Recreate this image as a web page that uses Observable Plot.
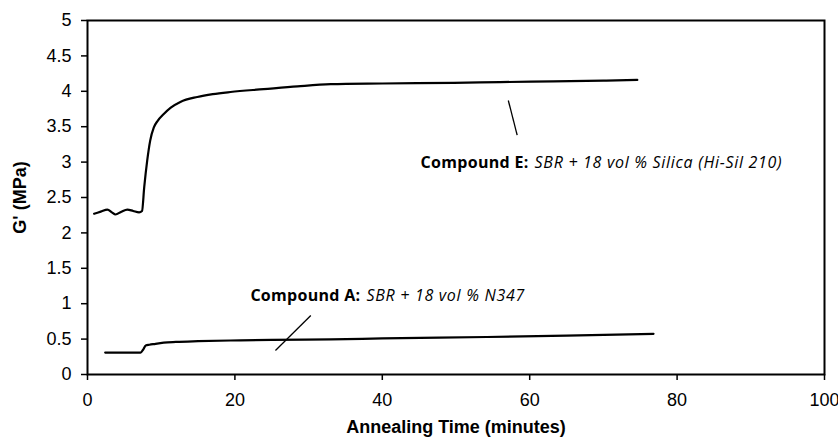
<!DOCTYPE html>
<html><head><meta charset="utf-8">
<script src="https://cdn.jsdelivr.net/npm/d3@7"></script>
<script src="https://cdn.jsdelivr.net/npm/@observablehq/plot@0.6"></script>
<style>
body{margin:0;background:#fff;}
#chart svg{font-family:"Liberation Sans",Arial,sans-serif;}
.note-bold text{letter-spacing:0.3px;}
.note-italic text{letter-spacing:0.7px;}
</style></head>
<body><div id="chart"></div>
<script>
// Compound E: SBR + 18 vol % Silica (Hi-Sil 210)
const timeE = [0.9, 1.8, 2.7, 3.3, 3.8, 4.6, 5.4, 6.2, 7.0, 7.4, 7.7, 8.1, 8.5, 9.0, 9.5, 10.35, 11.3, 12.6, 14.9, 17, 19.4, 23.9, 28.5, 33, 40, 49.7, 56, 63.2, 70, 74.6];
const gE    = [2.27, 2.30, 2.33, 2.29, 2.26, 2.30, 2.33, 2.31, 2.29, 2.31, 2.65, 3.02, 3.30, 3.49, 3.58, 3.68, 3.77, 3.85, 3.92, 3.96, 3.99, 4.03, 4.07, 4.10, 4.11, 4.12, 4.13, 4.14, 4.15, 4.16];
// Compound A: SBR + 18 vol % N347
const timeA = [2.4, 5.8, 7.2, 7.6, 7.9, 8.4, 9.0, 10.35, 12, 15, 19.4, 25, 33, 40, 54.2, 65, 76.8];
const gA    = [0.31, 0.31, 0.31, 0.36, 0.41, 0.42, 0.43, 0.45, 0.46, 0.47, 0.48, 0.49, 0.495, 0.51, 0.53, 0.55, 0.575];

const xTicks = [0, 20, 40, 60, 80, 100];
const yTicks = [0, 0.5, 1, 1.5, 2, 2.5, 3, 3.5, 4, 4.5, 5];

const xTitle = "Annealing Time (minutes)";
const yTitle = "G' (MPa)";

// annotations and leader lines
const noteBold   = ["Compound E:", "Compound A:"];
const noteItalic = ["SBR + 18 vol % Silica (Hi-Sil 210)", "SBR + 18 vol % N347"];
const noteX = [45.2, 22.1];
const noteY = [2.99, 1.115];
const leaderX1 = [57.1, 30.3], leaderY1 = [3.87, 0.833];
const leaderX2 = [58.3, 25.5], leaderY2 = [3.38, 0.34];

const seriesE = timeE.map((t, i) => ({t, g: gE[i]}));
const seriesA = timeA.map((t, i) => ({t, g: gA[i]}));
const notes = noteBold.map((b, i) => ({b, it: noteItalic[i], x: noteX[i], y: noteY[i]}));
const leaders = leaderX1.map((x1, i) => ({x1, y1: leaderY1[i], x2: leaderX2[i], y2: leaderY2[i]}));

const noteFont = "'Open Sans', sans-serif";
const noteSize = 16;

const chart = Plot.plot({
  width: 838, height: 442,
  marginLeft: 87, marginRight: 14, marginTop: 20, marginBottom: 68,
  x: {domain: [0, 100]},
  y: {domain: [0, 5]},
  marks: [
    Plot.frame({stroke: "black", strokeWidth: 2}),
    Plot.axisX({ticks: xTicks, tickSize: 6, tickPadding: 13, fontSize: 18, label: null, stroke: "black", strokeWidth: 1.5}),
    Plot.axisY({ticks: yTicks, tickSize: 6, tickPadding: 10, fontSize: 18, tickFormat: d => String(d), label: null, stroke: "black", strokeWidth: 1.5}),
    Plot.text([xTitle], {text: d => d, frameAnchor: "bottom", dy: 58, fontSize: 18, fontWeight: "bold", fill: "black"}),
    Plot.text([yTitle], {text: d => d, frameAnchor: "left", textAnchor: "middle", dx: -67, rotate: -90, fontSize: 18, fontWeight: "bold", fill: "black"}),
    Plot.line(seriesE, {x: "t", y: "g", stroke: "black", strokeWidth: 2.2, curve: "monotone-x"}),
    Plot.line(seriesA, {x: "t", y: "g", stroke: "black", strokeWidth: 2.2, curve: "monotone-x"}),
    Plot.link(leaders, {x1: "x1", y1: "y1", x2: "x2", y2: "y2", stroke: "black", strokeWidth: 1.3}),
    Plot.text(notes, {x: "x", y: "y", text: "b", textAnchor: "start", fontFamily: noteFont, fontSize: noteSize, fontWeight: "bold", fill: "black", className: "note-bold"}),
    Plot.text(notes, {x: "x", y: "y", text: "it", textAnchor: "start", fontFamily: noteFont, fontSize: noteSize, fontStyle: "italic", fill: "black", className: "note-italic"})
  ]
});
document.getElementById("chart").appendChild(chart);

// place italic part right after the bold part
const bolds = chart.querySelectorAll(".note-bold text");
const itals = chart.querySelectorAll(".note-italic text");
bolds.forEach((b, i) => {
  const w = b.getBBox().width;
  itals[i].setAttribute("dx", w + 6);
});
</script>
</body></html>
